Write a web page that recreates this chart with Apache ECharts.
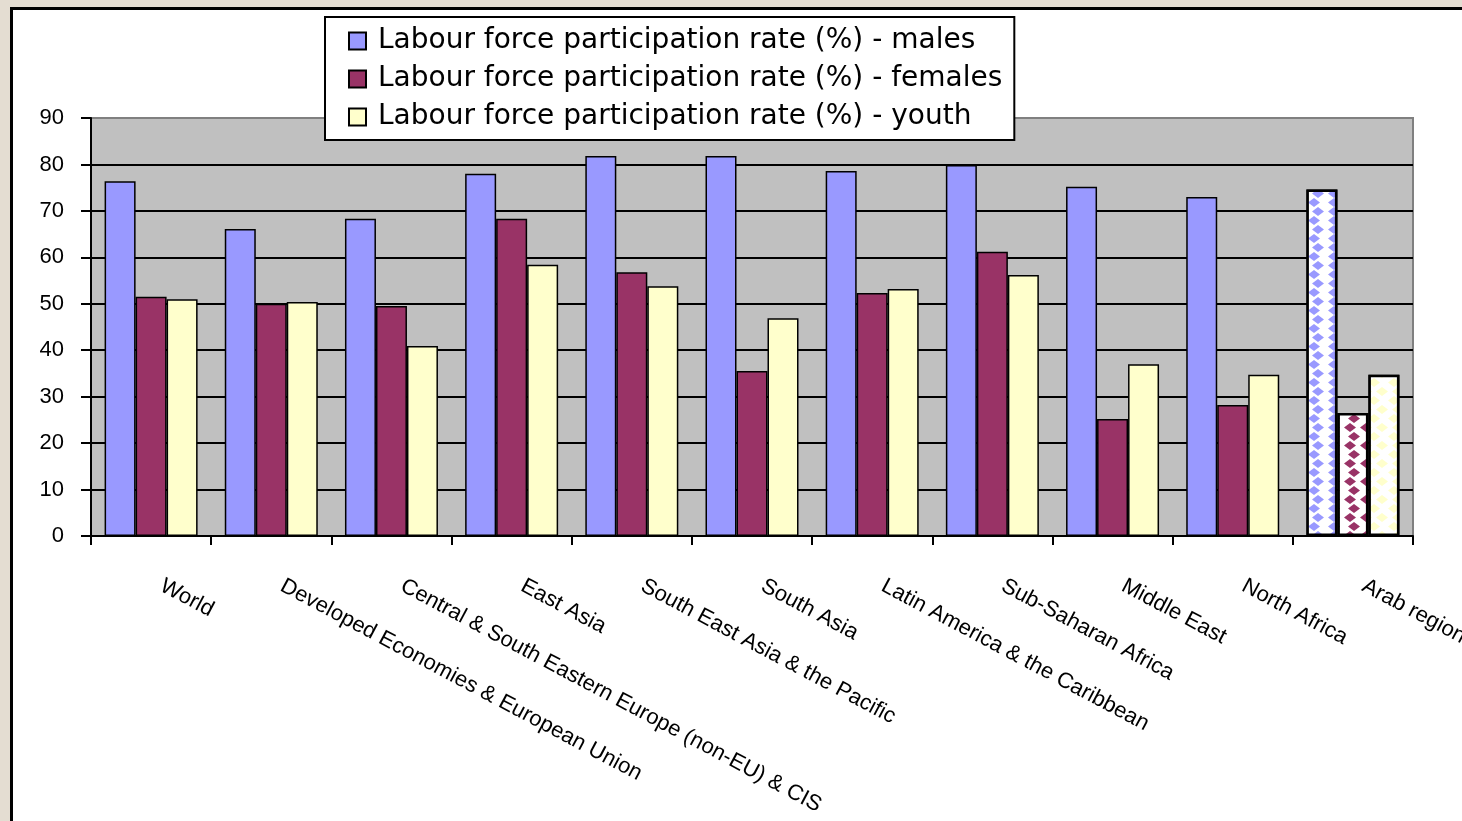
<!DOCTYPE html>
<html>
<head>
<meta charset="utf-8">
<script src="https://cdn.jsdelivr.net/npm/echarts@6/dist/echarts.min.js"></script>
<style>
  html, body { margin: 0; padding: 0; background: #e4ddd2; }
  #chart { width: 1462px; height: 821px; }
</style>
</head>
<body>
<div id="chart"></div>
<script>
const regions = [
  'World',
  'Developed Economies & European Union',
  'Central & South Eastern Europe (non-EU) & CIS',
  'East Asia',
  'South East Asia & the Pacific',
  'South Asia',
  'Latin America & the Caribbean',
  'Sub-Saharan Africa',
  'Middle East',
  'North Africa',
  'Arab region'
];
const males = [76.4, 66.1, 68.3, 78.0, 81.8, 81.8, 78.6, 79.9, 75.2, 73.0, 74.6];
const females = [51.5, 50.0, 49.5, 68.3, 56.8, 35.5, 52.3, 61.2, 25.2, 28.2, 26.5];
const youth = [51.0, 50.4, 40.9, 58.4, 53.8, 46.9, 53.2, 56.2, 37.0, 34.7, 34.7];
const yTicks = [0, 10, 20, 30, 40, 50, 60, 70, 80, 90];

const names = [
  'Labour force participation rate (%) - males',
  'Labour force participation rate (%) - females',
  'Labour force participation rate (%) - youth'
];
const colors = ['#9999ff', '#993366', '#ffffcc'];

// last bar group (Arab region) is drawn with a pattern on white
const withPattern = (values, color) =>
  values.map((v, i) => {
    if (i !== values.length - 1) return v;
    return {
      value: v,
      itemStyle: {
        color: '#ffffff',
        borderColor: '#000',
        borderWidth: 2.5,
        decal: {
          symbol: 'diamond',
          color: color,
          backgroundColor: '#ffffff',
          symbolSize: 1,
          dashArrayX: [[12, 4], [0, 8, 12, 0]],
          dashArrayY: [9, 0],
          rotation: 0
        }
      }
    };
  });

const myChart = echarts.init(document.querySelector('#chart'));

const splitColors = yTicks.map(t => (t === 90 ? '#808080' : '#000000'));

const option = {
  backgroundColor: '#e4ddd2',
  animation: false,
  graphic: [
    {
      type: 'rect',
      z: -10,
      shape: { x: 11.5, y: 8.5, width: 1500, height: 900 },
      style: { fill: '#ffffff', stroke: '#000000', lineWidth: 3 }
    }
  ],
  legend: {
    orient: 'vertical',
    left: 325,
    top: 17,
    backgroundColor: '#ffffff',
    borderColor: '#000000',
    borderWidth: 2,
    borderRadius: 0,
    padding: [9, 12, 8, 23],
    itemWidth: 17,
    itemHeight: 17,
    itemGap: 8,
    icon: 'rect',
    textStyle: {
      fontFamily: 'DejaVu Sans, sans-serif',
      fontSize: 28,
      color: '#000',
      lineHeight: 30,
      padding: [0, 0, 0, 7]
    },
    data: names
  },
  grid: {
    left: 91,
    right: 49,
    top: 118,
    bottom: 285,
    outerBoundsMode: 'none',
    show: true,
    backgroundColor: '#c0c0c0',
    borderColor: '#808080',
    borderWidth: 2
  },
  xAxis: {
    type: 'category',
    data: regions,
    axisLine: { lineStyle: { color: '#000', width: 2 } },
    axisTick: { show: true, length: 9, lineStyle: { color: '#000', width: 2 } },
    axisLabel: {
      interval: 0,
      rotate: -28,
      margin: 43,
      padding: [0, 0, 0, 12],
      fontFamily: 'Liberation Sans, Arial, sans-serif',
      fontSize: 22,
      color: '#000'
    }
  },
  yAxis: {
    type: 'value',
    min: 0,
    max: 90,
    interval: 10,
    axisLine: { show: true, lineStyle: { color: '#000', width: 2 } },
    axisTick: { show: true, length: 10, lineStyle: { color: '#000', width: 2 } },
    axisLabel: {
      margin: 27,
      fontFamily: 'Liberation Sans, Arial, sans-serif',
      fontSize: 22,
      color: '#000'
    },
    splitLine: { show: true, lineStyle: { color: splitColors, width: 2 } }
  },
  series: [
    {
      name: names[0],
      type: 'bar',
      barWidth: 31,
      barGap: '0%',
      data: withPattern(males, colors[0]),
      itemStyle: { color: colors[0], borderColor: '#000', borderWidth: 1.5 }
    },
    {
      name: names[1],
      type: 'bar',
      barWidth: 31,
      barGap: '0%',
      data: withPattern(females, colors[1]),
      itemStyle: { color: colors[1], borderColor: '#000', borderWidth: 1.5 }
    },
    {
      name: names[2],
      type: 'bar',
      barWidth: 31,
      barGap: '0%',
      data: withPattern(youth, colors[2]),
      itemStyle: { color: colors[2], borderColor: '#000', borderWidth: 1.5 }
    }
  ]
};

myChart.setOption(option);
</script>
</body>
</html>
